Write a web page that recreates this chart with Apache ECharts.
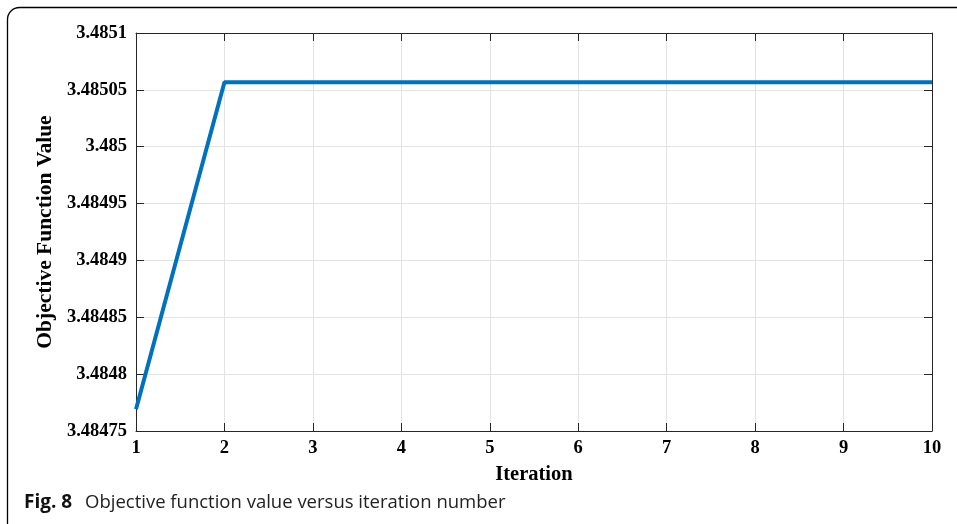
<!DOCTYPE html>
<html>
<head>
<meta charset="utf-8">
<script src="https://cdn.jsdelivr.net/npm/echarts@6/dist/echarts.min.js"></script>
<style>html,body{margin:0;padding:0;background:#fff;}#main{width:957px;height:524px;}</style>
</head>
<body>
<div id="main"></div>
<script>
const iterations = [1, 2, 3, 4, 5, 6, 7, 8, 9, 10];
const objectiveValues = [3.4847691, 3.4850566, 3.4850566, 3.4850566, 3.4850566, 3.4850566, 3.4850566, 3.4850566, 3.4850566, 3.4850566];
const xAxisName = 'Iteration';
const yAxisName = 'Objective Function Value';
const captionBold = 'Fig. 8';
const captionText = 'Objective function value versus iteration number';

const chart = echarts.init(document.getElementById('main'), null, {renderer: 'canvas'});
const serif = '"Liberation Serif", "Times New Roman", serif';
const axisColor = '#262626';
const labelStyle = {fontFamily: serif, fontWeight: 'bold', fontSize: 18.5, color: '#000'};
const fmt = v => String(+(+v).toFixed(6));

const option = {
  animation: false,
  grid: {left: 136, right: 25, top: 33, bottom: 93, containLabel: false},
  xAxis: [{
    type: 'value', min: 1, max: 10, interval: 1,
    name: xAxisName, nameLocation: 'middle', nameGap: 33,
    nameTextStyle: {fontFamily: serif, fontWeight: 'bold', fontSize: 20.5, color: '#000'},
    axisLine: {show: true, lineStyle: {color: axisColor, width: 1}},
    axisTick: {show: true, inside: true, length: 8, lineStyle: {color: axisColor}},
    axisLabel: Object.assign({margin: 8, formatter: fmt}, labelStyle),
    splitLine: {show: true, lineStyle: {color: '#e3e3e3', width: 1}}
  }, {
    type: 'value', min: 1, max: 10, interval: 1, position: 'top',
    axisLine: {show: true, lineStyle: {color: axisColor, width: 1}},
    axisTick: {show: true, inside: true, length: 8, lineStyle: {color: axisColor}},
    axisLabel: {show: false}, splitLine: {show: false}
  }],
  yAxis: [{
    type: 'value', min: 3.48475, max: 3.4851, interval: 0.00005,
    name: yAxisName, nameLocation: 'middle', nameGap: 79, nameRotate: 90,
    nameTextStyle: {fontFamily: serif, fontWeight: 'bold', fontSize: 21.5, color: '#000'},
    axisLine: {show: true, lineStyle: {color: axisColor, width: 1}},
    axisTick: {show: true, inside: true, length: 8, lineStyle: {color: axisColor}},
    axisLabel: Object.assign({margin: 9, formatter: fmt}, labelStyle),
    splitLine: {show: true, lineStyle: {color: '#e3e3e3', width: 1}}
  }, {
    type: 'value', min: 3.48475, max: 3.4851, interval: 0.00005, position: 'right',
    axisLine: {show: true, lineStyle: {color: axisColor, width: 1}},
    axisTick: {show: true, inside: true, length: 8, lineStyle: {color: axisColor}},
    axisLabel: {show: false}, splitLine: {show: false}
  }],
  series: [{
    type: 'line',
    data: iterations.map((x, i) => [x, objectiveValues[i]]),
    showSymbol: false,
    lineStyle: {color: '#0072BD', width: 4},
    itemStyle: {color: '#0072BD'}
  }],
  graphic: [{
    type: 'rect', silent: true,
    shape: {x: 7.5, y: 7.5, width: 1000, height: 530, r: 12},
    style: {fill: 'none', stroke: '#000', lineWidth: 1.3}
  }, {
    type: 'text', left: 24, top: 493,
    style: {
      text: '{b|' + captionBold + '}{n|' + captionText + '}',
      rich: {
        b: {fontFamily: '"Open Sans", "Noto Sans", sans-serif', fontWeight: 'bold', fontSize: 19, fill: '#111', width: 61},
        n: {fontFamily: '"Open Sans", "Noto Sans", sans-serif', fontSize: 18.5, fill: '#222'}
      }
    }
  }]
};
chart.setOption(option);
</script>
</body>
</html>
